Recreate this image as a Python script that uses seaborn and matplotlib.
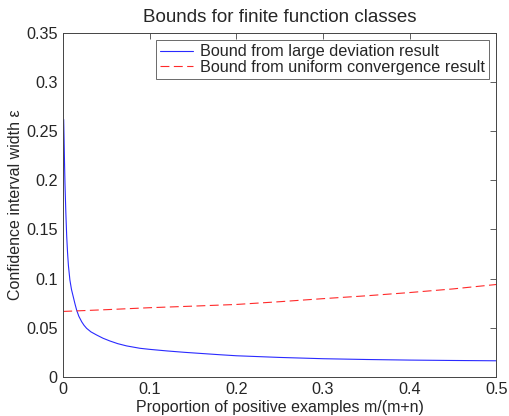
import numpy as np
import pandas as pd
import seaborn as sns
import matplotlib
matplotlib.use('Agg')
import matplotlib.pyplot as plt

# values
x_large = [0.0005, 0.001, 0.0015, 0.002, 0.003, 0.004, 0.005, 0.006, 0.0077, 0.0095,
           0.0116, 0.0135, 0.0155, 0.018, 0.0213, 0.024, 0.027, 0.032, 0.0386, 0.046,
           0.054, 0.063, 0.0733, 0.0886, 0.1, 0.12, 0.14, 0.16, 0.18, 0.2, 0.25,
           0.3, 0.35, 0.4, 0.45, 0.5]
y_large = [0.262, 0.24, 0.217, 0.197, 0.167, 0.143, 0.126, 0.113, 0.0985, 0.089,
           0.0814, 0.0745, 0.0679, 0.0617, 0.0561, 0.0525, 0.0494, 0.0458, 0.0426, 0.0393,
           0.0365, 0.0338, 0.0315, 0.0291, 0.0280, 0.0264, 0.0250, 0.0238, 0.0226, 0.0215, 0.0198,
           0.0185, 0.0177, 0.0171, 0.0167, 0.0164]

x_unif = [0.0, 0.05, 0.1, 0.15, 0.2, 0.25, 0.3, 0.35, 0.4, 0.45, 0.5]
y_unif = [0.0666, 0.0684, 0.0704, 0.0720, 0.0737, 0.0765, 0.0796, 0.0825, 0.0858, 0.0895, 0.0940]

label_large = 'Bound from large deviation result'
label_unif = 'Bound from uniform convergence result'

df = pd.concat([
    pd.DataFrame({'x': x_large, 'y': y_large, 'series': label_large}),
    pd.DataFrame({'x': x_unif, 'y': y_unif, 'series': label_unif}),
])

sns.set_theme(style='white')
plt.rcParams['font.family'] = ['Liberation Sans', 'DejaVu Sans']

fig, ax = plt.subplots(figsize=(5.1, 4.16), dpi=100)
fig.subplots_adjust(left=0.124, right=0.973, top=0.921, bottom=0.094)

sns.lineplot(data=df, x='x', y='y', hue='series', style='series',
             palette={label_large: '#2a2aff', label_unif: '#ff2a2a'},
             dashes={label_large: '', label_unif: (8, 4)},
             linewidth=0.8, ax=ax)

ax.set_xlim(0, 0.5)
ax.set_ylim(0, 0.35)
ax.set_xticks([0, 0.1, 0.2, 0.3, 0.4, 0.5])
ax.set_xticklabels(['0', '0.1', '0.2', '0.3', '0.4', '0.5'])
ax.set_yticks([0, 0.05, 0.1, 0.15, 0.2, 0.25, 0.3, 0.35])
ax.set_yticklabels(['0', '0.05', '0.1', '0.15', '0.2', '0.25', '0.3', '0.35'])
ax.tick_params(direction='in', length=4, width=0.6, color='#444444',
               top=True, right=True, labelsize=11.7, pad=4)
for s in ax.spines.values():
    s.set_color('#444444')
    s.set_linewidth(0.7)

ax.set_xlabel('Proportion of positive examples m/(m+n)', fontsize=11.5, labelpad=2)
ax.set_ylabel('Confidence interval width ε', fontsize=11.5, labelpad=2)
ax.set_title('Bounds for finite function classes', fontsize=13.5, pad=8)

leg = ax.legend(loc='upper right', fontsize=11.7, frameon=True, fancybox=False,
                borderpad=0.25, handlelength=2.0, handletextpad=0.45,
                labelspacing=0.05, borderaxespad=0.45)
leg.get_frame().set_edgecolor('#444444')
leg.get_frame().set_linewidth(0.7)

fig.savefig('out.png', dpi=100)
